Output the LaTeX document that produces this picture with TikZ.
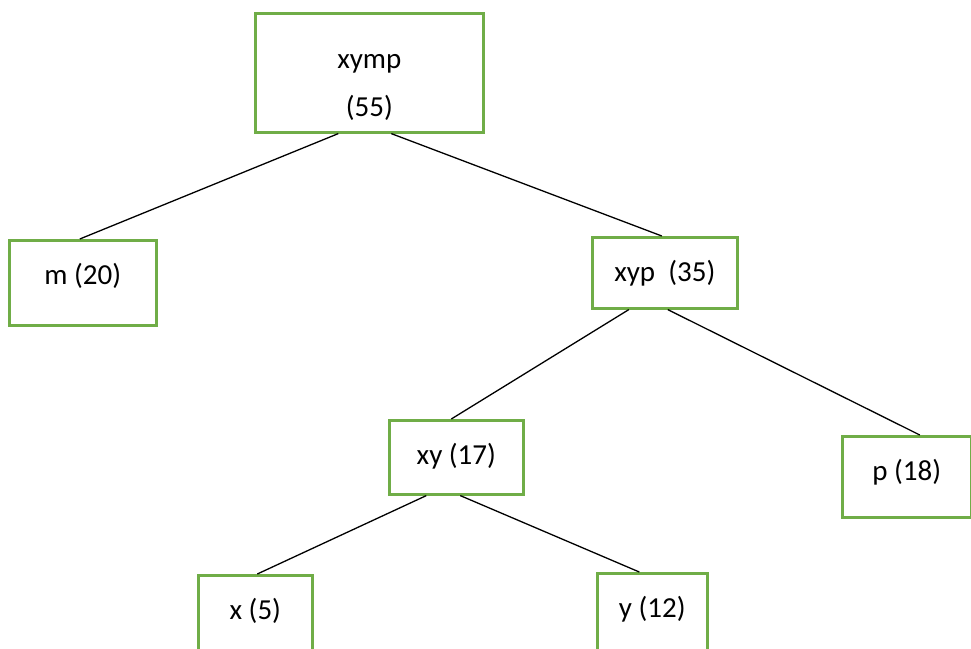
\documentclass[tikz,border=0pt]{standalone}
\usepackage{fontspec}
\setmainfont{Carlito}
\usetikzlibrary{positioning}
\definecolor{boxgreen}{RGB}{112,173,71}
\tikzstyle{treebox}=[draw=boxgreen,line width=2.6pt,anchor=north west,inner sep=0pt,text height=44pt,font=\fontsize{29}{48}\selectfont]
\tikzstyle{treeedge}=[draw,line width=1.3pt]
\begin{document}
\begin{tikzpicture}[x=1pt,y=1pt]
    \useasboundingbox[fill=white] (0,0) rectangle (971,-648);

    % Root of the tree
    \node[treebox,minimum width=228pt,text height=103pt,text depth=16pt,align=center] (root) at (254,-12) {xymp\\(55)};

    % Then the other boxes
    \foreach \pos/\name/\boxw/\boxd/\label in {{(8,-239)/m/147/41/{m (20)}}, {(591,-236)/xyp/145/27/{xyp\ \ (35)}}, {(388,-419)/xy/134/30/{xy (17)}}, {(841,-435)/p/129/37/{p (18)}}, {(197,-574)/x/114/60/{x (5)}}, {(596,-572)/y/110/60/{y (12)}}}
        \node[treebox,minimum width=\boxw pt,text depth=\boxd pt] (\name) at \pos {\label};

    % Connect the boxes
    \foreach \source/\sx/\dest/\dx in {root/-31/m/-3, root/22/xyp/-3, xyp/-36/xy/-5, xyp/3/p/13, xy/-30/x/2, xy/4/y/-13}
        \path[treeedge] ([xshift=\sx]\source.south) -- ([xshift=\dx]\dest.north);

\end{tikzpicture}
\end{document}
